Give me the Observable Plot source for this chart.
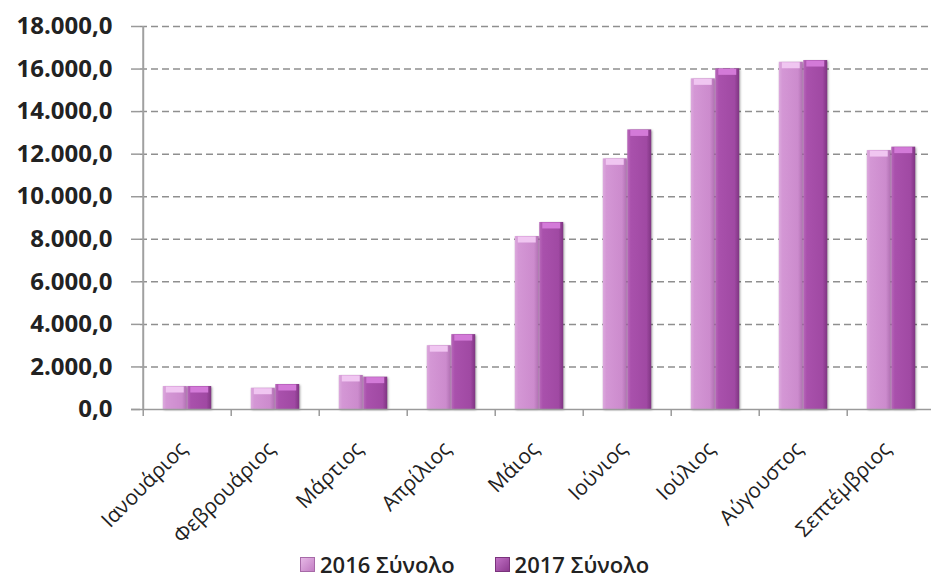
<!DOCTYPE html>
<html>
<head>
<meta charset="utf-8">
<script src="https://cdn.jsdelivr.net/npm/d3@7"></script>
<script src="https://cdn.jsdelivr.net/npm/@observablehq/plot@0.6"></script>
<style>
  html, body { margin: 0; padding: 0; background: #fff; overflow: hidden; }
  #chart svg { overflow: hidden; }
  .legend { position: absolute; left: 0; top: 550px; display: flex; align-items: center; padding-left: 300px;
    font-family: "Open Sans", sans-serif; font-size: 22px; line-height: 28px; font-weight: 600; color: #222; }
  .legend .item { display: flex; align-items: center; margin-right: 40px; }
  .legend .sw { width: 15px; height: 15px; margin-right: 5px; box-sizing: border-box; }
</style>
</head>
<body>
<div id="chart"></div>
<script>
const months = ["Ιανουάριος", "Φεβρουάριος", "Μάρτιος", "Απρίλιος", "Μάιος", "Ιούνιος", "Ιούλιος", "Αύγουστος", "Σεπτέμβριος"];
const values2016 = [1080, 1000, 1600, 3000, 8130, 11780, 15540, 16320, 12170];
const values2017 = [1080, 1175, 1520, 3520, 8790, 13140, 16010, 16400, 12330];
const seriesNames = ["2016 Σύνολο", "2017 Σύνολο"];
const yTicks = [0, 2000, 4000, 6000, 8000, 10000, 12000, 14000, 16000, 18000];

const data2016 = months.map((m, i) => ({month: m, value: values2016[i], series: seriesNames[0]}));
const data2017 = months.map((m, i) => ({month: m, value: values2017[i], series: seriesNames[1]}));

const W = 931, H = 548, ML = 140, MR = -6, MT = 26, MB = 139;
const bw = (W - MR - ML) / months.length;
const barW = 24.5;
const fmt = d3.formatLocale({decimal: ",", thousands: ".", grouping: [3], currency: ["", "€"]}).format(",.1f");

const plot = Plot.plot({
  width: W, height: H,
  marginLeft: ML, marginRight: MR, marginTop: MT, marginBottom: MB,
  style: {fontFamily: "Open Sans, sans-serif", background: "#fff", color: "#222"},
  x: {domain: months, padding: 0, label: null},
  y: {domain: [0, 18000], label: null},
  marks: [
    Plot.ruleY(yTicks.filter(d => d > 0), {stroke: "#8f8f8f", strokeWidth: 1.5, strokeDasharray: "7,4"}),
    Plot.ruleY(yTicks, {stroke: "#9a9a9a", strokeWidth: 1.5, insetLeft: -9, insetRight: bw * 9}),
    Plot.barY(data2016, {x: "month", y: "value", fill: "url(#g2016)", insetLeft: bw / 2 - barW, insetRight: bw / 2}),
    Plot.barY(data2017, {x: "month", y: "value", fill: "url(#g2017)", insetLeft: bw / 2, insetRight: bw / 2 - barW}),
    Plot.tickY(data2016, {x: "month", y: "value", stroke: "#f0c6f1", strokeWidth: 6, dy: 3, insetLeft: bw / 2 - barW + 3, insetRight: bw / 2 + 3}),
    Plot.tickY(data2017, {x: "month", y: "value", stroke: "#d37ad8", strokeWidth: 6, dy: 3, insetLeft: bw / 2 + 3, insetRight: bw / 2 - barW + 3}),
    Plot.ruleY([0], {stroke: "#9a9a9a", strokeWidth: 1.5, insetLeft: -9}),
    Plot.ruleX([months[0]], {x: d => d, dx: -bw / 2, y1: 0, y2: 18000, stroke: "#a0a0a0", strokeWidth: 2}),
    Plot.axisX({tickSize: 7, tickFormat: () => "", dx: -bw / 2, stroke: "#9a9a9a", strokeWidth: 1.5}),
    Plot.axisX({tickSize: 0, tickPadding: 36, tickRotate: -45, dx: -4, fontSize: 21, fill: "#222"}),
    Plot.axisY({ticks: yTicks, tickFormat: fmt, tickSize: 0, tickPadding: 28, fontSize: 24, fontWeight: "bold", fill: "#222"})
  ]
});

const ns = "http://www.w3.org/2000/svg";
const defs = document.createElementNS(ns, "defs");
function grad(id, stops) {
  const g = document.createElementNS(ns, "linearGradient");
  g.setAttribute("id", id);
  g.setAttribute("x1", "0"); g.setAttribute("x2", "1"); g.setAttribute("y1", "0"); g.setAttribute("y2", "0");
  for (const [o, c] of stops) {
    const s = document.createElementNS(ns, "stop");
    s.setAttribute("offset", o); s.setAttribute("stop-color", c);
    g.appendChild(s);
  }
  defs.appendChild(g);
}
grad("g2016", [["0", "#dcaadd"], ["0.15", "#d497d5"], ["0.8", "#cc8bcd"], ["1", "#b070b2"]]);
grad("g2017", [["0", "#b867ba"], ["0.15", "#a951ac"], ["0.8", "#a049a3"], ["1", "#7f3582"]]);
plot.insertBefore(defs, plot.firstChild);
plot.querySelectorAll('g[aria-label="bar"]').forEach(g => g.style.filter = "drop-shadow(1px 1px 1px rgba(0,0,0,0.35))");

document.getElementById("chart").appendChild(plot);

const legend = document.createElement("div");
legend.className = "legend";
const swFill = ["linear-gradient(135deg, #e6b8e6, #c37fc4)", "linear-gradient(135deg, #c070c4, #8d3b90)"];
seriesNames.forEach((name, i) => {
  const item = document.createElement("div");
  item.className = "item";
  const sw = document.createElement("div");
  sw.className = "sw";
  sw.style.background = swFill[i];
  sw.style.border = "1px solid " + (i ? "#7a337c" : "#a76aa8");
  const t = document.createElement("span");
  t.textContent = name;
  item.appendChild(sw); item.appendChild(t);
  legend.appendChild(item);
});
document.body.appendChild(legend);
</script>
</body>
</html>
